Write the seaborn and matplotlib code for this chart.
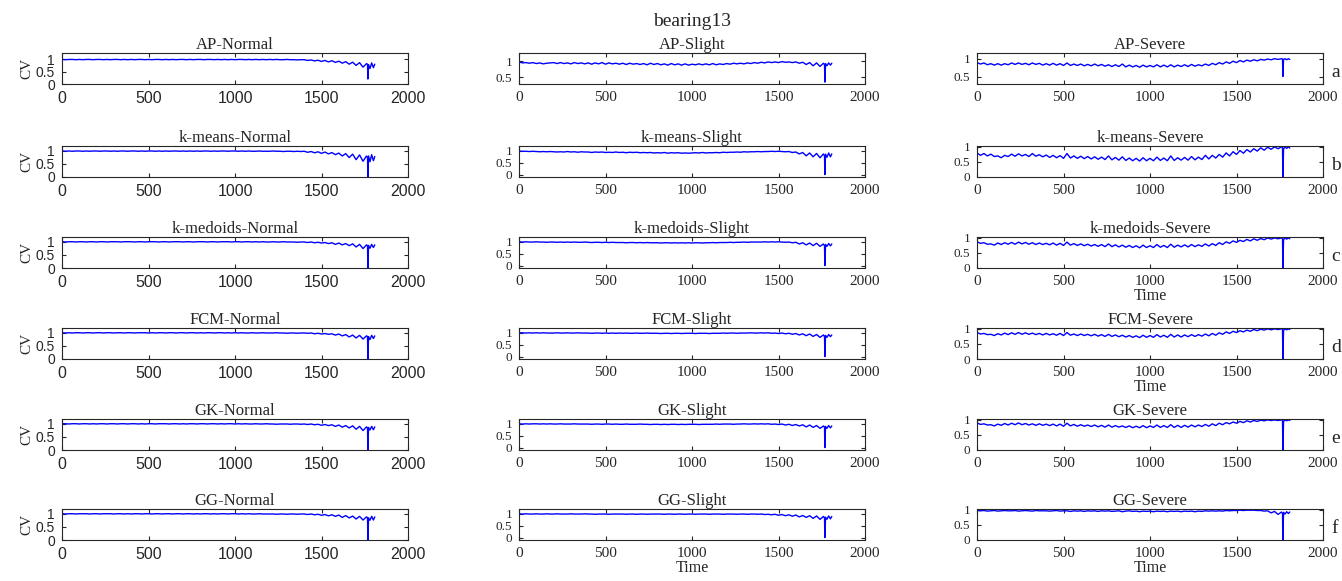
import matplotlib
matplotlib.use("Agg")
import matplotlib.pyplot as plt
import seaborn as sns
import pandas as pd

# ─── Data (step 20 + samples around the drop) ─────────────────────────────────
time = list(range(0, 1780, 20)) + [1766, 1768, 1772, 1780, 1790, 1800, 1808]

methods    = ["AP", "k-means", "k-medoids", "FCM", "GK", "GG"]
conditions = ["Normal", "Slight", "Severe"]
row_tags   = ["a", "b", "c", "d", "e", "f"]
x_ticks    = [0, 500, 1000, 1500, 2000]

# Normal
ap_normal = [
    0.99, 0.98, 0.99, 0.99, 0.98, 0.99, 0.98, 0.99, 0.99, 0.98,
    0.99, 0.99, 0.98, 0.99, 0.98, 0.99, 0.99, 0.98, 0.99, 0.98,
    0.99, 0.98, 0.99, 0.99, 0.98, 0.99, 0.98, 0.99, 0.99, 0.98,
    0.99, 0.98, 0.99, 0.98, 0.99, 0.99, 0.98, 0.99, 0.98, 0.99,
    0.99, 0.98, 0.99, 0.99, 0.98, 0.99, 0.98, 0.99, 0.98, 0.99,
    0.98, 0.99, 0.99, 0.98, 0.99, 0.98, 0.99, 0.98, 0.99, 0.98,
    0.99, 0.98, 0.99, 0.98, 0.98, 0.99, 0.98, 0.98, 0.97, 0.98,
    0.98, 0.95, 0.97, 0.93, 0.96, 0.91, 0.95, 0.89, 0.94, 0.87,
    0.92, 0.84, 0.90, 0.80, 0.88, 0.75, 0.86, 0.68, 0.82,
    0.80, 0.20, 0.78, 0.62, 0.85, 0.66, 0.80,
]
kmeans_normal = [
    0.99, 0.98, 0.99, 0.98, 0.99, 0.99, 0.98, 0.99, 0.98, 0.99,
    0.99, 0.98, 0.99, 0.99, 0.98, 0.99, 0.98, 0.99, 0.99, 0.98,
    0.99, 0.99, 0.98, 0.99, 0.98, 0.99, 0.99, 0.98, 0.99, 0.98,
    0.99, 0.98, 0.99, 0.99, 0.98, 0.99, 0.98, 0.99, 0.98, 0.99,
    0.98, 0.99, 0.99, 0.98, 0.99, 0.98, 0.99, 0.99, 0.98, 0.99,
    0.99, 0.98, 0.99, 0.98, 0.99, 0.98, 0.98, 0.99, 0.98, 0.98,
    0.98, 0.99, 0.98, 0.98, 0.97, 0.98, 0.98, 0.97, 0.98, 0.97,
    0.98, 0.94, 0.97, 0.92, 0.96, 0.90, 0.95, 0.88, 0.93, 0.85,
    0.91, 0.80, 0.89, 0.74, 0.87, 0.66, 0.84, 0.60, 0.80,
    0.75, 0.00, 0.80, 0.58, 0.85, 0.62, 0.78,
]
kmedoids_normal = [
    1.00, 0.99, 1.00, 1.00, 0.99, 1.00, 1.00, 0.99, 1.00, 1.00,
    0.99, 1.00, 1.00, 0.99, 1.00, 1.00, 1.00, 0.99, 1.00, 1.00,
    1.00, 0.99, 1.00, 1.00, 0.99, 1.00, 1.00, 1.00, 0.99, 1.00,
    1.00, 0.99, 1.00, 1.00, 1.00, 0.99, 1.00, 1.00, 0.99, 1.00,
    1.00, 1.00, 0.99, 1.00, 1.00, 0.99, 1.00, 1.00, 1.00, 0.99,
    1.00, 1.00, 0.99, 1.00, 1.00, 0.99, 1.00, 0.99, 1.00, 0.99,
    0.99, 1.00, 0.99, 0.99, 1.00, 0.99, 0.99, 0.99, 0.98, 0.99,
    0.99, 0.97, 0.99, 0.96, 0.98, 0.95, 0.97, 0.93, 0.96, 0.90,
    0.95, 0.88, 0.93, 0.85, 0.92, 0.80, 0.90, 0.74, 0.88,
    0.85, 0.00, 0.86, 0.75, 0.90, 0.78, 0.88,
]
fcm_normal = [
    1.00, 0.99, 1.00, 0.99, 1.00, 1.00, 0.99, 1.00, 1.00, 0.99,
    1.00, 1.00, 0.99, 1.00, 1.00, 0.99, 1.00, 1.00, 0.99, 1.00,
    1.00, 0.99, 1.00, 1.00, 1.00, 0.99, 1.00, 0.99, 1.00, 1.00,
    0.99, 1.00, 1.00, 0.99, 1.00, 1.00, 0.99, 1.00, 1.00, 0.99,
    1.00, 0.99, 1.00, 1.00, 0.99, 1.00, 1.00, 0.99, 1.00, 0.99,
    1.00, 0.99, 1.00, 0.99, 0.99, 1.00, 0.99, 0.99, 1.00, 0.99,
    0.99, 0.99, 1.00, 0.99, 0.99, 0.98, 0.99, 0.99, 0.98, 0.99,
    0.99, 0.98, 0.99, 0.96, 0.98, 0.95, 0.97, 0.94, 0.96, 0.91,
    0.95, 0.88, 0.93, 0.84, 0.91, 0.80, 0.90, 0.76, 0.88,
    0.86, 0.00, 0.85, 0.74, 0.90, 0.78, 0.88,
]
gk_normal = [
    1.00, 1.00, 0.99, 1.00, 1.00, 0.99, 1.00, 1.00, 0.99, 1.00,
    0.99, 1.00, 1.00, 0.99, 1.00, 1.00, 0.99, 1.00, 1.00, 0.99,
    1.00, 1.00, 0.99, 1.00, 0.99, 1.00, 1.00, 0.99, 1.00, 1.00,
    1.00, 0.99, 1.00, 1.00, 0.99, 1.00, 0.99, 1.00, 1.00, 0.99,
    1.00, 1.00, 0.99, 1.00, 1.00, 0.99, 1.00, 0.99, 1.00, 1.00,
    0.99, 1.00, 0.99, 1.00, 0.99, 0.99, 1.00, 0.99, 0.99, 1.00,
    0.99, 0.99, 0.98, 0.99, 0.99, 0.99, 0.98, 0.99, 0.99, 0.98,
    0.99, 0.97, 0.99, 0.96, 0.98, 0.94, 0.97, 0.93, 0.96, 0.90,
    0.95, 0.87, 0.93, 0.84, 0.92, 0.79, 0.90, 0.74, 0.88,
    0.84, 0.00, 0.86, 0.76, 0.90, 0.77, 0.88,
]
gg_normal = [
    1.00, 0.99, 1.00, 1.00, 0.99, 1.00, 1.00, 1.00, 0.99, 1.00,
    1.00, 0.99, 1.00, 1.00, 1.00, 0.99, 1.00, 1.00, 0.99, 1.00,
    0.99, 1.00, 1.00, 0.99, 1.00, 1.00, 0.99, 1.00, 1.00, 0.99,
    1.00, 1.00, 0.99, 1.00, 1.00, 0.99, 1.00, 1.00, 0.99, 1.00,
    0.99, 1.00, 1.00, 0.99, 1.00, 0.99, 1.00, 1.00, 0.99, 1.00,
    1.00, 0.99, 1.00, 0.99, 1.00, 0.99, 0.99, 1.00, 0.99, 0.99,
    0.99, 0.99, 0.98, 0.99, 0.99, 0.98, 0.99, 0.99, 0.98, 0.99,
    0.99, 0.97, 0.99, 0.96, 0.98, 0.94, 0.97, 0.92, 0.96, 0.90,
    0.95, 0.86, 0.93, 0.84, 0.91, 0.80, 0.90, 0.76, 0.88,
    0.85, 0.00, 0.84, 0.75, 0.90, 0.76, 0.88,
]

# Slight
ap_slight = [
    0.98, 0.95, 0.96, 0.94, 0.96, 0.93, 0.95, 0.92, 0.94, 0.95,
    0.96, 0.93, 0.96, 0.93, 0.95, 0.92, 0.96, 0.93, 0.95, 0.92,
    0.95, 0.91, 0.95, 0.92, 0.96, 0.91, 0.95, 0.92, 0.94, 0.91,
    0.94, 0.90, 0.94, 0.91, 0.93, 0.90, 0.93, 0.89, 0.94, 0.90,
    0.93, 0.89, 0.92, 0.88, 0.93, 0.89, 0.92, 0.88, 0.92, 0.88,
    0.91, 0.89, 0.92, 0.89, 0.92, 0.89, 0.93, 0.89, 0.92, 0.90,
    0.93, 0.91, 0.94, 0.92, 0.94, 0.92, 0.95, 0.93, 0.96, 0.94,
    0.97, 0.95, 0.98, 0.96, 0.98, 0.96, 0.99, 0.97, 0.98, 0.96,
    0.98, 0.94, 0.97, 0.90, 0.96, 0.86, 0.95, 0.84, 0.94,
    0.90, 0.35, 0.93, 0.86, 0.95, 0.88, 0.94,
]
kmeans_slight = [
    0.98, 0.97, 0.97, 0.96, 0.97, 0.96, 0.95, 0.96, 0.95, 0.96,
    0.95, 0.94, 0.95, 0.94, 0.96, 0.94, 0.95, 0.93, 0.95, 0.94,
    0.94, 0.92, 0.94, 0.93, 0.94, 0.92, 0.93, 0.92, 0.94, 0.92,
    0.93, 0.91, 0.93, 0.92, 0.93, 0.91, 0.92, 0.91, 0.92, 0.90,
    0.91, 0.90, 0.92, 0.89, 0.91, 0.90, 0.91, 0.89, 0.90, 0.89,
    0.90, 0.91, 0.90, 0.92, 0.90, 0.91, 0.91, 0.92, 0.91, 0.93,
    0.92, 0.93, 0.93, 0.94, 0.93, 0.95, 0.94, 0.95, 0.95, 0.96,
    0.95, 0.96, 0.96, 0.97, 0.96, 0.97, 0.96, 0.95, 0.96, 0.92,
    0.94, 0.86, 0.92, 0.78, 0.90, 0.74, 0.88, 0.70, 0.86,
    0.78, 0.00, 0.85, 0.72, 0.90, 0.74, 0.86,
]
kmedoids_slight = [
    0.99, 0.98, 0.99, 0.98, 0.98, 0.99, 0.98, 0.98, 0.97, 0.98,
    0.98, 0.97, 0.98, 0.97, 0.98, 0.97, 0.98, 0.97, 0.97, 0.98,
    0.97, 0.96, 0.97, 0.97, 0.96, 0.97, 0.96, 0.97, 0.96, 0.96,
    0.96, 0.95, 0.96, 0.96, 0.95, 0.96, 0.95, 0.96, 0.95, 0.95,
    0.95, 0.94, 0.95, 0.95, 0.94, 0.95, 0.94, 0.95, 0.94, 0.95,
    0.94, 0.95, 0.95, 0.94, 0.95, 0.95, 0.96, 0.95, 0.96, 0.96,
    0.96, 0.97, 0.96, 0.97, 0.97, 0.98, 0.97, 0.98, 0.98, 0.98,
    0.98, 0.99, 0.98, 0.99, 0.98, 0.99, 0.98, 0.97, 0.98, 0.95,
    0.97, 0.90, 0.95, 0.86, 0.94, 0.83, 0.93, 0.80, 0.90,
    0.82, 0.00, 0.88, 0.80, 0.92, 0.82, 0.90,
]
fcm_slight = [
    0.99, 0.99, 0.98, 0.99, 0.98, 0.99, 0.98, 0.99, 0.98, 0.98,
    0.98, 0.99, 0.98, 0.98, 0.99, 0.98, 0.98, 0.99, 0.98, 0.98,
    0.98, 0.97, 0.98, 0.98, 0.97, 0.98, 0.97, 0.98, 0.97, 0.98,
    0.97, 0.98, 0.97, 0.97, 0.98, 0.97, 0.97, 0.98, 0.97, 0.97,
    0.97, 0.96, 0.97, 0.97, 0.96, 0.97, 0.97, 0.96, 0.97, 0.97,
    0.97, 0.96, 0.97, 0.97, 0.97, 0.96, 0.97, 0.97, 0.97, 0.98,
    0.97, 0.98, 0.98, 0.97, 0.98, 0.98, 0.98, 0.99, 0.98, 0.98,
    0.99, 0.98, 0.99, 0.97, 0.98, 0.96, 0.98, 0.95, 0.97, 0.93,
    0.96, 0.90, 0.95, 0.87, 0.94, 0.84, 0.92, 0.80, 0.90,
    0.84, 0.00, 0.88, 0.80, 0.92, 0.83, 0.90,
]
gk_slight = [
    0.99, 0.98, 0.99, 0.98, 0.99, 0.99, 0.98, 0.99, 0.98, 0.99,
    0.98, 0.98, 0.99, 0.98, 0.98, 0.98, 0.99, 0.98, 0.98, 0.98,
    0.98, 0.97, 0.98, 0.98, 0.97, 0.98, 0.98, 0.97, 0.98, 0.97,
    0.97, 0.98, 0.97, 0.97, 0.97, 0.98, 0.97, 0.97, 0.96, 0.97,
    0.97, 0.96, 0.97, 0.96, 0.97, 0.97, 0.96, 0.97, 0.96, 0.97,
    0.97, 0.97, 0.96, 0.97, 0.97, 0.97, 0.97, 0.98, 0.97, 0.98,
    0.98, 0.98, 0.97, 0.98, 0.98, 0.99, 0.98, 0.98, 0.99, 0.98,
    0.99, 0.98, 0.99, 0.97, 0.98, 0.96, 0.98, 0.94, 0.97, 0.92,
    0.96, 0.90, 0.95, 0.86, 0.94, 0.84, 0.92, 0.80, 0.90,
    0.85, 0.00, 0.88, 0.80, 0.92, 0.82, 0.90,
]
gg_slight = [
    0.99, 0.98, 0.99, 0.98, 0.98, 0.99, 0.98, 0.98, 0.99, 0.98,
    0.98, 0.99, 0.98, 0.98, 0.98, 0.99, 0.98, 0.98, 0.98, 0.99,
    0.98, 0.98, 0.97, 0.98, 0.98, 0.98, 0.97, 0.98, 0.98, 0.98,
    0.98, 0.97, 0.98, 0.98, 0.97, 0.98, 0.98, 0.97, 0.98, 0.98,
    0.98, 0.98, 0.97, 0.98, 0.98, 0.97, 0.98, 0.98, 0.97, 0.98,
    0.98, 0.97, 0.98, 0.98, 0.98, 0.97, 0.98, 0.98, 0.98, 0.97,
    0.98, 0.98, 0.98, 0.97, 0.98, 0.98, 0.97, 0.98, 0.98, 0.97,
    0.98, 0.96, 0.97, 0.95, 0.97, 0.93, 0.96, 0.91, 0.95, 0.89,
    0.94, 0.86, 0.92, 0.84, 0.91, 0.80, 0.90, 0.76, 0.88,
    0.82, 0.00, 0.85, 0.76, 0.90, 0.78, 0.88,
]

# Severe
ap_severe = [
    0.89, 0.85, 0.88, 0.83, 0.86, 0.82, 0.86, 0.82, 0.86, 0.83,
    0.88, 0.84, 0.88, 0.84, 0.87, 0.83, 0.88, 0.84, 0.87, 0.82,
    0.86, 0.82, 0.87, 0.82, 0.86, 0.81, 0.88, 0.81, 0.85, 0.81,
    0.85, 0.80, 0.84, 0.80, 0.85, 0.80, 0.84, 0.79, 0.83, 0.78,
    0.83, 0.78, 0.85, 0.77, 0.82, 0.77, 0.81, 0.76, 0.82, 0.77,
    0.81, 0.77, 0.83, 0.77, 0.82, 0.77, 0.83, 0.77, 0.82, 0.78,
    0.83, 0.78, 0.84, 0.79, 0.83, 0.80, 0.85, 0.81, 0.87, 0.83,
    0.89, 0.85, 0.91, 0.87, 0.93, 0.89, 0.95, 0.91, 0.96, 0.93,
    0.97, 0.94, 0.98, 0.96, 0.99, 0.97, 1.00, 0.98, 1.00,
    0.99, 0.50, 0.98, 1.00, 0.97, 1.00, 0.98,
]
kmeans_severe = [
    0.80, 0.72, 0.78, 0.70, 0.76, 0.68, 0.70, 0.64, 0.72, 0.68,
    0.76, 0.69, 0.77, 0.70, 0.75, 0.68, 0.78, 0.69, 0.74, 0.67,
    0.73, 0.65, 0.72, 0.64, 0.71, 0.62, 0.78, 0.63, 0.70, 0.62,
    0.69, 0.61, 0.68, 0.60, 0.67, 0.59, 0.66, 0.58, 0.70, 0.57,
    0.65, 0.56, 0.67, 0.55, 0.63, 0.54, 0.62, 0.53, 0.64, 0.54,
    0.62, 0.54, 0.66, 0.55, 0.63, 0.54, 0.70, 0.55, 0.64, 0.56,
    0.65, 0.56, 0.68, 0.57, 0.66, 0.58, 0.72, 0.60, 0.72, 0.63,
    0.75, 0.66, 0.80, 0.70, 0.84, 0.75, 0.88, 0.79, 0.91, 0.83,
    0.94, 0.86, 0.97, 0.89, 0.99, 0.92, 1.00, 0.94, 1.00,
    0.98, 0.00, 0.93, 1.00, 0.95, 1.00, 0.96,
]
kmedoids_severe = [
    0.87, 0.82, 0.84, 0.79, 0.80, 0.76, 0.83, 0.78, 0.84, 0.79,
    0.85, 0.79, 0.86, 0.80, 0.85, 0.79, 0.84, 0.78, 0.83, 0.78,
    0.82, 0.77, 0.83, 0.76, 0.82, 0.75, 0.86, 0.76, 0.81, 0.75,
    0.80, 0.74, 0.79, 0.73, 0.78, 0.72, 0.78, 0.71, 0.80, 0.71,
    0.77, 0.70, 0.76, 0.69, 0.75, 0.68, 0.74, 0.67, 0.76, 0.68,
    0.74, 0.68, 0.78, 0.69, 0.75, 0.68, 0.79, 0.69, 0.76, 0.70,
    0.77, 0.70, 0.78, 0.71, 0.77, 0.72, 0.80, 0.73, 0.81, 0.75,
    0.84, 0.78, 0.87, 0.82, 0.90, 0.85, 0.92, 0.88, 0.95, 0.90,
    0.97, 0.92, 0.98, 0.94, 1.00, 0.96, 1.00, 0.97, 1.00,
    0.99, 0.00, 0.94, 1.00, 0.96, 1.00, 0.97,
]
fcm_severe = [
    0.88, 0.83, 0.85, 0.81, 0.82, 0.78, 0.84, 0.80, 0.86, 0.81,
    0.87, 0.82, 0.88, 0.82, 0.87, 0.82, 0.86, 0.81, 0.85, 0.80,
    0.85, 0.80, 0.84, 0.79, 0.85, 0.78, 0.88, 0.79, 0.83, 0.78,
    0.83, 0.78, 0.82, 0.77, 0.82, 0.76, 0.81, 0.75, 0.82, 0.75,
    0.80, 0.74, 0.79, 0.73, 0.78, 0.72, 0.77, 0.71, 0.79, 0.72,
    0.78, 0.72, 0.81, 0.73, 0.79, 0.72, 0.82, 0.73, 0.80, 0.73,
    0.80, 0.74, 0.81, 0.75, 0.81, 0.76, 0.83, 0.77, 0.85, 0.79,
    0.87, 0.82, 0.90, 0.85, 0.92, 0.88, 0.94, 0.90, 0.96, 0.92,
    0.98, 0.94, 0.99, 0.96, 1.00, 0.97, 1.00, 0.98, 1.00,
    0.99, 0.00, 0.95, 1.00, 0.97, 1.00, 0.98,
]
gk_severe = [
    0.90, 0.85, 0.87, 0.83, 0.84, 0.80, 0.86, 0.82, 0.88, 0.83,
    0.89, 0.84, 0.90, 0.84, 0.88, 0.83, 0.87, 0.82, 0.87, 0.82,
    0.86, 0.81, 0.86, 0.80, 0.86, 0.79, 0.89, 0.80, 0.85, 0.79,
    0.84, 0.79, 0.83, 0.78, 0.83, 0.77, 0.82, 0.76, 0.83, 0.76,
    0.81, 0.76, 0.80, 0.75, 0.80, 0.74, 0.79, 0.74, 0.81, 0.74,
    0.80, 0.75, 0.83, 0.75, 0.81, 0.75, 0.84, 0.75, 0.82, 0.75,
    0.82, 0.76, 0.83, 0.77, 0.83, 0.78, 0.85, 0.79, 0.87, 0.81,
    0.89, 0.84, 0.91, 0.87, 0.93, 0.89, 0.95, 0.91, 0.97, 0.93,
    0.98, 0.95, 0.99, 0.97, 1.00, 0.98, 1.00, 0.98, 1.00,
    0.99, 0.00, 0.95, 1.00, 0.97, 1.00, 0.98,
]
gg_severe = [
    0.98, 0.97, 0.98, 0.96, 0.97, 0.98, 0.96, 0.97, 0.98, 0.97,
    0.97, 0.98, 0.96, 0.97, 0.98, 0.97, 0.96, 0.98, 0.97, 0.97,
    0.97, 0.96, 0.97, 0.98, 0.96, 0.97, 0.97, 0.95, 0.97, 0.96,
    0.97, 0.95, 0.97, 0.96, 0.97, 0.95, 0.97, 0.96, 0.97, 0.95,
    0.96, 0.97, 0.94, 0.96, 0.97, 0.95, 0.96, 0.94, 0.96, 0.95,
    0.96, 0.94, 0.96, 0.95, 0.96, 0.94, 0.96, 0.95, 0.96, 0.94,
    0.96, 0.95, 0.96, 0.94, 0.96, 0.95, 0.97, 0.96, 0.97, 0.96,
    0.97, 0.96, 0.98, 0.97, 0.98, 0.98, 0.99, 0.98, 0.99, 0.99,
    0.99, 0.98, 0.98, 0.96, 0.97, 0.90, 0.95, 0.85, 0.93,
    0.88, 0.00, 0.92, 0.86, 0.94, 0.88, 0.93,
]

grid = [
    [ap_normal,       ap_slight,       ap_severe],
    [kmeans_normal,   kmeans_slight,   kmeans_severe],
    [kmedoids_normal, kmedoids_slight, kmedoids_severe],
    [fcm_normal,      fcm_slight,      fcm_severe],
    [gk_normal,       gk_slight,       gk_severe],
    [gg_normal,       gg_slight,       gg_severe],
]

# ─── Style ───────────────────────────────────────────────────────────────────
sns.set_style("ticks")
SERIF = ["Liberation Serif", "DejaVu Serif"]
SANS  = ["Liberation Sans", "DejaVu Sans"]
plt.rcParams["font.family"] = SERIF
plt.rcParams.update({
    "xtick.direction": "in", "ytick.direction": "in",
    "xtick.top": True, "ytick.right": True,
    "xtick.major.size": 3, "ytick.major.size": 3,
    "xtick.major.width": 0.8, "ytick.major.width": 0.8,
    "axes.linewidth": 0.8, "axes.edgecolor": "#262626",
    "xtick.color": "#262626", "ytick.color": "#262626",
})

W, H = 1342, 581
fig = plt.figure(figsize=(W / 100, H / 100), dpi=100)

col_left = [62, 519, 977]
row_top  = [53, 146, 237, 328, 419, 509]
ax_w, ax_h = 346, 31

# ylim per (row, col)
def y_limits(r, c):
    if c == 0:
        return (0, 1.25) if r == 0 else (0, 1.18)
    if c == 1:
        return (0.29, 1.26) if r == 0 else (-0.1, 1.19)
    return (0.29, 1.16) if r == 0 else (0, 1.03)

time_labels = {(2, 2), (3, 2), (5, 2), (5, 1)}

for r, method in enumerate(methods):
    for c, cond in enumerate(conditions):
        vals = grid[r][c]
        assert len(vals) == len(time), (method, cond, len(vals))
        df = pd.DataFrame({"Time": time, "CV": vals})
        ax = fig.add_axes([col_left[c] / W, 1 - (row_top[r] + ax_h) / H,
                           ax_w / W, ax_h / H])
        sns.lineplot(data=df, x="Time", y="CV", ax=ax, color="#0000ff",
                     linewidth=1.0, estimator=None, sort=False)
        ax.set_xlim(0, 2000)
        ax.set_ylim(*y_limits(r, c))
        ax.set_xticks(x_ticks)
        lo = y_limits(r, c)[0]
        yt = [0.5, 1] if lo > 0.2 else [0, 0.5, 1]
        ax.set_yticks(yt)
        ax.set_yticklabels([f"{v:g}" for v in yt])
        ax.set_xticklabels([str(v) for v in x_ticks])
        tick_family = SANS if c == 0 else SERIF
        for lab in ax.get_xticklabels():
            lab.set_family(tick_family)
            lab.set_fontsize(11.5 if c == 0 else 11)
        for lab in ax.get_yticklabels():
            lab.set_family(tick_family)
            lab.set_fontsize(10 if c == 0 else 9.5)
        ax.tick_params(axis="x", pad=5)
        ax.tick_params(axis="y", pad=5)
        ax.set_title(f"{method}-{cond}", fontsize=12, pad=2)
        if c == 0:
            ax.set_ylabel("CV", fontsize=11, labelpad=2)
        else:
            ax.set_ylabel("")
        if (r, c) in time_labels:
            ax.set_xlabel("Time", fontsize=11.5, labelpad=0)
        else:
            ax.set_xlabel("")
        if c == 2:
            ax.text(1.023, 0.38, row_tags[r], transform=ax.transAxes,
                    fontsize=14, ha="left", va="center")

fig.text(692 / W, 1 - 22 / H, "bearing13", ha="center", va="center",
         fontsize=14)

fig.savefig("out.png", dpi=100)
